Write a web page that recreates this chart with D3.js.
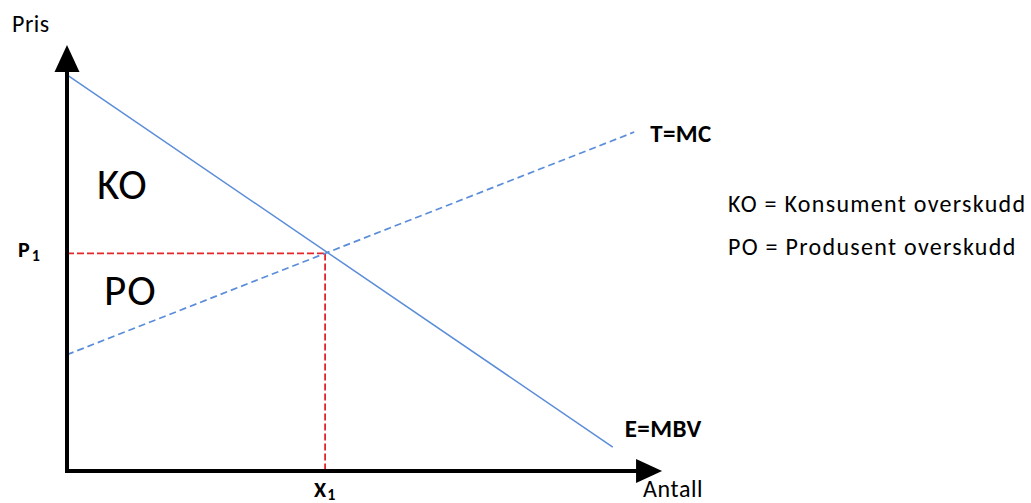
<!DOCTYPE html>
<html>
<head>
<meta charset="utf-8">
<script src="https://cdn.jsdelivr.net/npm/d3@7"></script>
<style>
  html, body { margin: 0; padding: 0; background: #fff; overflow: hidden; }
  svg { display: block; }
  text { font-family: Calibri, Carlito, Lato, "Open Sans", sans-serif; fill: #000; }
</style>
</head>
<body>
<svg id="chart" width="1031" height="503"></svg>
<script>
// ---- data (axis units 0..100) ----
const demandX = [0, 94.1];
const demandY = [94.3, 5.7];
const supplyX = [0, 97.8];
const supplyY = [27.7, 80.7];
const equilibriumX = [44.5];
const equilibriumY = [51.8];
const axisEnd = [102.6, 101.4];          // arrow tips (x, y)
const axisLabels = ["Antall", "Pris"];
const curveLabels = ["E=MBV", "T=MC"];
const tickLabels = ["P", "X"];
const areaLabels = ["KO", "PO"];
const legendLines = ["KO = Konsument overskudd", "PO = Produsent overskudd"];

// ---- scales ----
const x = d3.scaleLinear().domain([0, 100]).range([67, 647]);
const y = d3.scaleLinear().domain([0, 100]).range([471, 51]);

const svg = d3.select("#chart");
const line = d3.line().x(d => x(d[0])).y(d => y(d[1]));

const demand = demandX.map((v, i) => [v, demandY[i]]);
const supply = supplyX.map((v, i) => [v, supplyY[i]]);
const eq = [equilibriumX[0], equilibriumY[0]];

// red guide lines
const red = "#e3262b";
svg.append("path")
  .attr("d", line([[0, eq[1]], eq]))
  .attr("fill", "none").attr("stroke", red).attr("stroke-width", 1.8)
  .attr("stroke-dasharray", "7,3");
svg.append("path")
  .attr("d", line([eq, [eq[0], 0]]))
  .attr("fill", "none").attr("stroke", red).attr("stroke-width", 1.8)
  .attr("stroke-dasharray", "7,3");

// supply (dashed)
svg.append("path")
  .attr("d", line(supply))
  .attr("fill", "none").attr("stroke", "#5b8dd9").attr("stroke-width", 1.7)
  .attr("stroke-dasharray", "7,4");

// demand (solid)
svg.append("path")
  .attr("d", line(demand))
  .attr("fill", "none").attr("stroke", "#5b8dd9").attr("stroke-width", 1.5);

// axes with arrows
const xTip = x(axisEnd[0]), yTip = y(axisEnd[1]);
const x0 = x(0), y0 = y(0);
svg.append("line")
  .attr("x1", x0).attr("y1", y0 + 2).attr("x2", x0).attr("y2", yTip + 20)
  .attr("stroke", "#000").attr("stroke-width", 4);
svg.append("line")
  .attr("x1", x0 - 2).attr("y1", y0).attr("x2", xTip - 20).attr("y2", y0)
  .attr("stroke", "#000").attr("stroke-width", 4);
svg.append("path")
  .attr("d", `M${x0},${yTip} L${x0 - 12.5},${yTip + 27} L${x0 + 12.5},${yTip + 27} Z`)
  .attr("fill", "#000");
svg.append("path")
  .attr("d", `M${xTip},${y0} L${xTip - 26},${y0 - 12} L${xTip - 26},${y0 + 12} Z`)
  .attr("fill", "#000");

// axis labels
svg.append("text").attr("x", 12).attr("y", 32).attr("font-size", 24)
  .attr("letter-spacing", 0.5).text(axisLabels[1]);
svg.append("text").attr("x", xTip - 19).attr("y", 497).attr("font-size", 24)
  .attr("letter-spacing", 0.6).text(axisLabels[0]);

// tick labels with subscripts
const p1 = svg.append("text").attr("x", 18).attr("y", y(eq[1]) + 4)
  .attr("font-size", 22).attr("font-weight", "bold");
p1.append("tspan").text(tickLabels[0]);
p1.append("tspan").attr("font-size", 16).attr("dx", 2).attr("dy", 4).text("1");

const x1 = svg.append("text").attr("x", x(eq[0]) - 11).attr("y", 497)
  .attr("font-size", 22).attr("font-weight", "bold");
x1.append("tspan").text(tickLabels[1]);
x1.append("tspan").attr("font-size", 16).attr("dx", 1).attr("dy", 3).text("1");

// curve labels
svg.append("text").attr("x", x(supply[1][0]) + 16).attr("y", 142)
  .attr("font-size", 25).attr("font-weight", "bold")
  .attr("letter-spacing", 0.4).text(curveLabels[1]);
svg.append("text").attr("x", x(demand[1][0]) + 12).attr("y", 437)
  .attr("font-size", 25).attr("font-weight", "bold")
  .attr("letter-spacing", 0.4).text(curveLabels[0]);

// area labels
svg.append("text").attr("x", 97).attr("y", 199).attr("font-size", 43)
  .attr("letter-spacing", 1).text(areaLabels[0]);
svg.append("text").attr("x", 104).attr("y", 305).attr("font-size", 43)
  .attr("letter-spacing", 1).text(areaLabels[1]);

// legend
svg.selectAll(".legend").data(legendLines).enter().append("text")
  .attr("class", "legend")
  .attr("x", 728).attr("y", (d, i) => 212 + i * 43)
  .attr("font-size", 24).attr("letter-spacing", 1.3).text(d => d);
</script>
</body>
</html>
